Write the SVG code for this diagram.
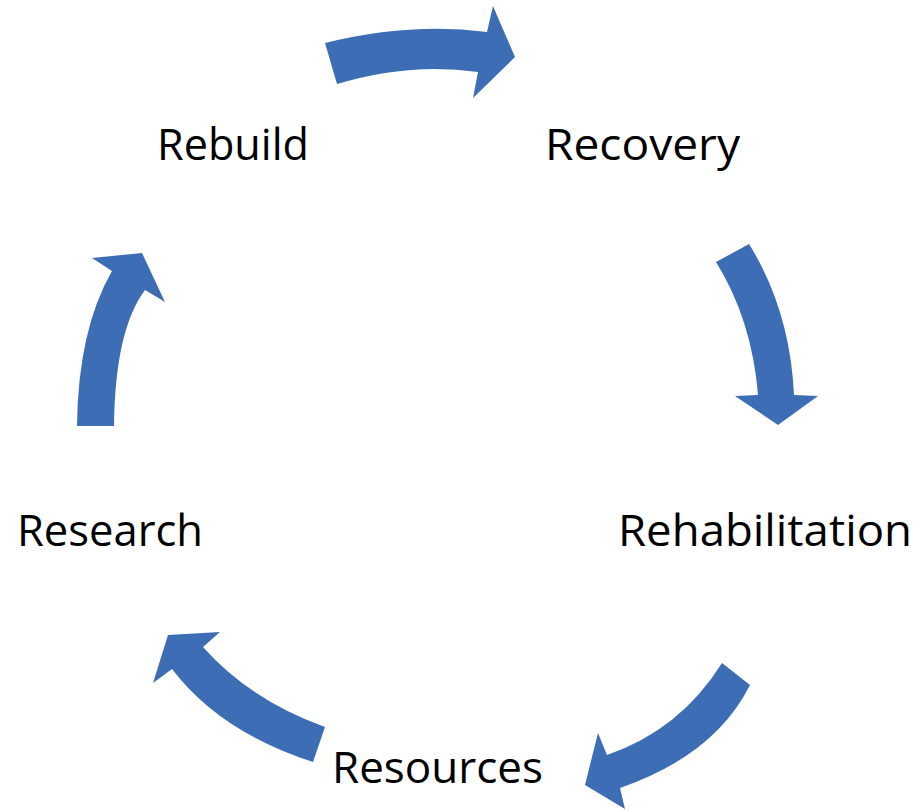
<svg xmlns="http://www.w3.org/2000/svg" width="919" height="810" viewBox="0 0 919 810">
  <style>
    .arrow { fill: #3C6DB5; stroke: none; }
    .label { font-family: "Open Sans", "Noto Sans", "Liberation Sans", sans-serif; font-size: 44px; fill: #000000; }
  </style>
  <rect width="919" height="810" fill="#ffffff"/>
  <g id="connectors">
    <path id="arrow-rebuild-recovery" class="arrow" d="M325,43 Q410,22 487,32 L493,6 L515,57 L473,98 L478,72 Q410,62 337,84 Z"/>
    <path id="arrow-recovery-rehabilitation" class="arrow" d="M716,262 L749,244 Q790,310 794,395 L818,396 L778,425 L735,396 L758,395 Q752,320 716,262 Z"/>
    <path id="arrow-rehabilitation-resources" class="arrow" d="M722,663 L750,685 Q715,755 620,788 L625,809 L585,785 L598,733 L607,755 Q680,730 722,663 Z"/>
    <path id="arrow-resources-research" class="arrow" d="M325,727 Q250,700 203,647 L220,632 L168,635 L153,683 L172,669 Q220,732 313,762 Z"/>
    <path id="arrow-research-rebuild" class="arrow" d="M77,426 Q78,330 112,271 L92,258 L142,253 L165,302 L145,290 Q115,330 114,426 Z"/>
  </g>
  <g id="node-rebuild"><text class="label" x="157" y="160" textLength="152" lengthAdjust="spacingAndGlyphs">Rebuild</text></g>
  <g id="node-recovery"><text class="label" x="545" y="160" textLength="195" lengthAdjust="spacingAndGlyphs">Recovery</text></g>
  <g id="node-rehabilitation"><text class="label" x="618" y="546" textLength="294" lengthAdjust="spacingAndGlyphs">Rehabilitation</text></g>
  <g id="node-research"><text class="label" x="17" y="546" textLength="186" lengthAdjust="spacingAndGlyphs">Research</text></g>
  <g id="node-resources"><text class="label" x="332" y="783" textLength="211" lengthAdjust="spacingAndGlyphs">Resources</text></g>
</svg>
